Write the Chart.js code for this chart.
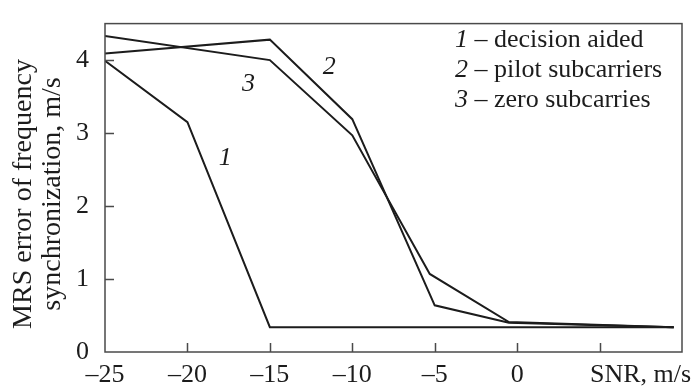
<!DOCTYPE html>
<html>
<head>
<meta charset="utf-8">
<script src="https://cdn.jsdelivr.net/npm/chart.js@4/dist/chart.umd.min.js"></script>
<style>
  html, body { margin: 0; padding: 0; background: #fff; }
  #chart { display: block; }
</style>
</head>
<body>
<canvas id="chart" width="695" height="387"></canvas>
<script>
// values
const snrDecision = [-25, -20, -15, 9.5];
const errDecision = [3.99, 3.15, 0.34, 0.34];

const snrPilot = [-25, -15, -10, -5, -0.5, 9.5];
const errPilot = [4.09, 4.28, 3.19, 0.64, 0.40, 0.34];

const snrZero = [-25, -15, -10, -5.3, -0.5, 9.5];
const errZero = [4.33, 4.00, 2.97, 1.07, 0.41, 0.34];

const legendNums = ['1', '2', '3'];
const legendNames = ['decision aided', 'pilot subcarriers', 'zero subcarries'];

// curve number labels, in data units
const curveLabels = [
    { text: '1', x: -17.7, y: 2.66 },
    { text: '3', x: -16.3, y: 3.67 },
    { text: '2', x: -11.4, y: 3.9 }
];

const yTitle = ['MRS error of frequency', 'synchronization, m/s'];
const xTitle = 'SNR, m/s';

const SERIF = '"Liberation Serif", "Times New Roman", serif';
const INK = '#1c1c1c';

function toPoints(xs, ys) {
    return xs.map((x, i) => ({ x: x, y: ys[i] }));
}

function lineSet(xs, ys) {
    return {
        data: toPoints(xs, ys),
        showLine: true,
        borderColor: INK,
        borderWidth: 2,
        pointRadius: 0,
        tension: 0,
        fill: false
    };
}

const decor = {
    id: 'decor',
    afterDraw(chart) {
        const ctx = chart.ctx;
        const a = chart.chartArea;
        const xs = chart.scales.x;
        const ys = chart.scales.y;
        ctx.save();

        // frame
        ctx.strokeStyle = '#4a4a4a';
        ctx.lineWidth = 1.5;
        ctx.strokeRect(a.left, a.top, a.right - a.left, a.bottom - a.top);

        // inward ticks
        ctx.beginPath();
        [-20, -15, -10, -5, 0, 5].forEach(v => {
            const px = Math.round(xs.getPixelForValue(v)) + 0.5;
            ctx.moveTo(px, a.bottom);
            ctx.lineTo(px, a.bottom - 9);
        });
        [1, 2, 3, 4].forEach(v => {
            const py = Math.round(ys.getPixelForValue(v)) + 0.5;
            ctx.moveTo(a.left, py);
            ctx.lineTo(a.left + 9, py);
        });
        ctx.stroke();

        ctx.fillStyle = INK;
        ctx.textBaseline = 'middle';

        // legend
        const lx = 455;
        legendNums.forEach((n, i) => {
            const ly = 40 + i * 30;
            ctx.font = 'italic 26px ' + SERIF;
            ctx.textAlign = 'left';
            ctx.fillText(n, lx, ly);
            const w = ctx.measureText(n).width;
            ctx.font = '26px ' + SERIF;
            ctx.fillText(' \u2013 ' + legendNames[i], lx + w, ly);
        });

        // curve numbers
        ctx.font = 'italic 26px ' + SERIF;
        ctx.textAlign = 'center';
        curveLabels.forEach(l => {
            ctx.fillText(l.text, xs.getPixelForValue(l.x), ys.getPixelForValue(l.y));
        });

        // x title
        ctx.font = '26px ' + SERIF;
        ctx.textAlign = 'left';
        ctx.fillText(xTitle, 590, xs.top + 23);

        // y title
        ctx.translate(0, 194);
        ctx.rotate(-Math.PI / 2);
        ctx.textAlign = 'center';
        ctx.font = '28px ' + SERIF;
        ctx.fillText(yTitle[0], 0, 24);
        ctx.fillText(yTitle[1], 0, 53);

        ctx.restore();
    }
};

new Chart(document.getElementById('chart'), {
    type: 'scatter',
    data: {
        datasets: [
            lineSet(snrDecision, errDecision),
            lineSet(snrPilot, errPilot),
            lineSet(snrZero, errZero)
        ]
    },
    options: {
        responsive: false,
        devicePixelRatio: 1,
        animation: false,
        layout: { padding: { left: 0, right: 13, top: 13, bottom: 0 } },
        plugins: {
            legend: { display: false },
            tooltip: { enabled: false }
        },
        scales: {
            x: {
                type: 'linear',
                min: -25,
                max: 10,
                grid: { display: false },
                border: { display: false },
                afterFit: s => { s.height = 35; },
                ticks: {
                    stepSize: 5,
                    autoSkip: false,
                    maxRotation: 0,
                    padding: 0,
                    color: INK,
                    font: { family: SERIF, size: 26 },
                    callback: v => (v >= 5 ? '' : String(v).replace('-', '\u2013'))
                }
            },
            y: {
                min: 0,
                max: 4.5,
                grid: { display: false },
                border: { display: false },
                afterFit: s => { s.width = 105; },
                ticks: {
                    stepSize: 1,
                    padding: 8,
                    color: INK,
                    font: { family: SERIF, size: 26 },
                    callback: v => (Number.isInteger(v) ? String(v) : '')
                }
            }
        }
    },
    plugins: [decor]
});
</script>
</body>
</html>
